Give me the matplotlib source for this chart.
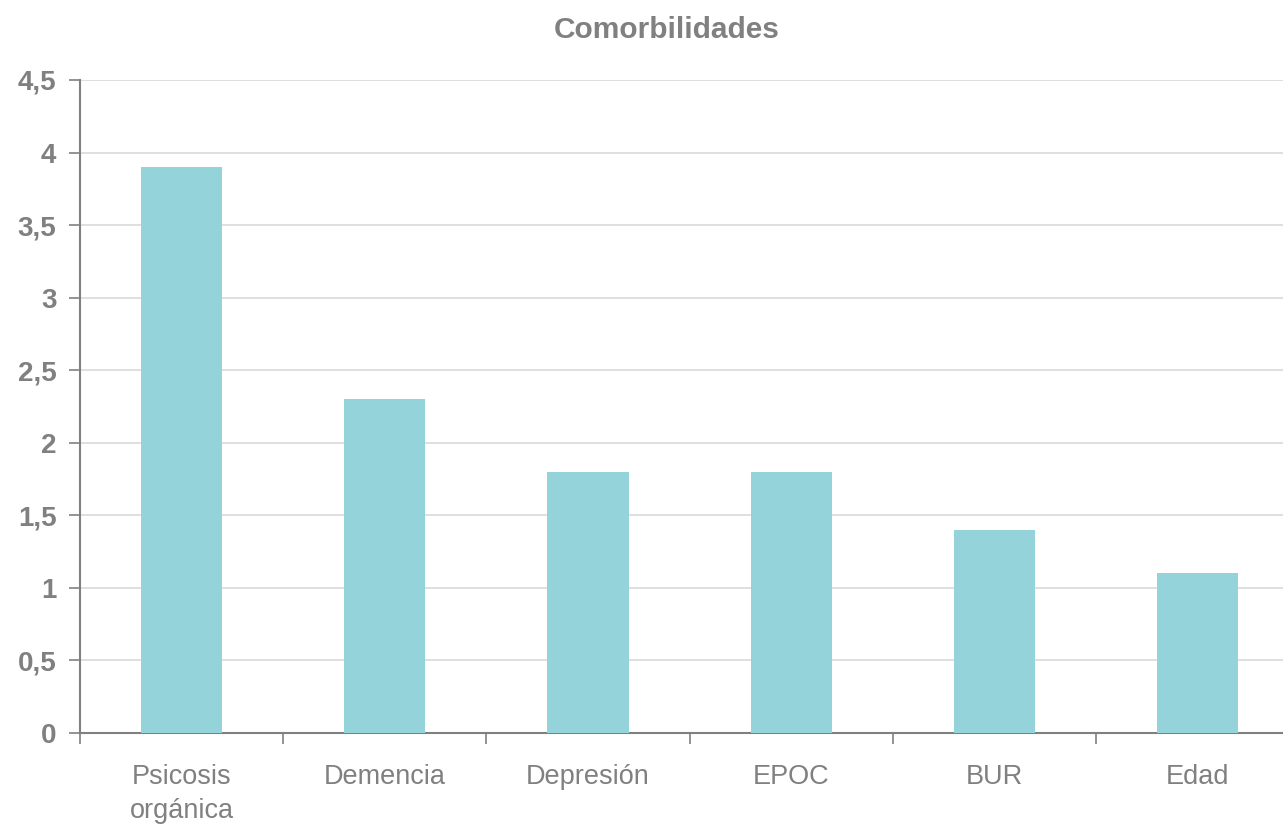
import matplotlib.pyplot as plt
import numpy as np

plt.rcParams['font.family'] = ['Liberation Sans', 'DejaVu Sans']

categorias = ['Psicosis\norgánica', 'Demencia', 'Depresión', 'EPOC', 'BUR', 'Edad']
valores = [3.9, 2.3, 1.8, 1.8, 1.4, 1.1]
yticks = [0, 0.5, 1, 1.5, 2, 2.5, 3, 3.5, 4, 4.5]
ytick_labels = ['0', '0,5', '1', '1,5', '2', '2,5', '3', '3,5', '4', '4,5']

gris = '#808080'

fig = plt.figure(figsize=(12.83, 8.27), dpi=100)
ax = fig.add_axes([0.0624, 0.1137, 0.9376, 0.7896])

x = np.arange(len(categorias))
ax.bar(x, valores, width=0.40, color='#95d3da', zorder=3)

ax.set_xlim(-0.5, 5.42)
ax.set_ylim(0, 4.5)
ax.set_yticks(yticks)
ax.set_yticklabels(ytick_labels, fontsize=20, fontweight='bold', color=gris)
ax.set_xticks(x)
ax.set_xticklabels(categorias, fontsize=19.5, color=gris, linespacing=1.4)
ax.set_xticks(np.arange(-0.5, 5.5, 1), minor=True)
ax.tick_params(axis='x', which='major', length=0, pad=22)
ax.tick_params(axis='x', which='minor', length=8, width=1.2, color=gris, direction='out')
ax.tick_params(axis='y', length=8, width=1.2, color=gris, pad=9)

ax.grid(axis='y', color='#d9d9d9', linewidth=1.2, zorder=0)
for s in ['top', 'right']:
    ax.spines[s].set_visible(False)
for s in ['left', 'bottom']:
    ax.spines[s].set_color(gris)
    ax.spines[s].set_linewidth(1.5)

fig.text(0.5195, 0.964, 'Comorbilidades', ha='center', va='center',
         fontsize=21.5, fontweight='bold', color=gris)

fig.savefig('out.png', dpi=100)
